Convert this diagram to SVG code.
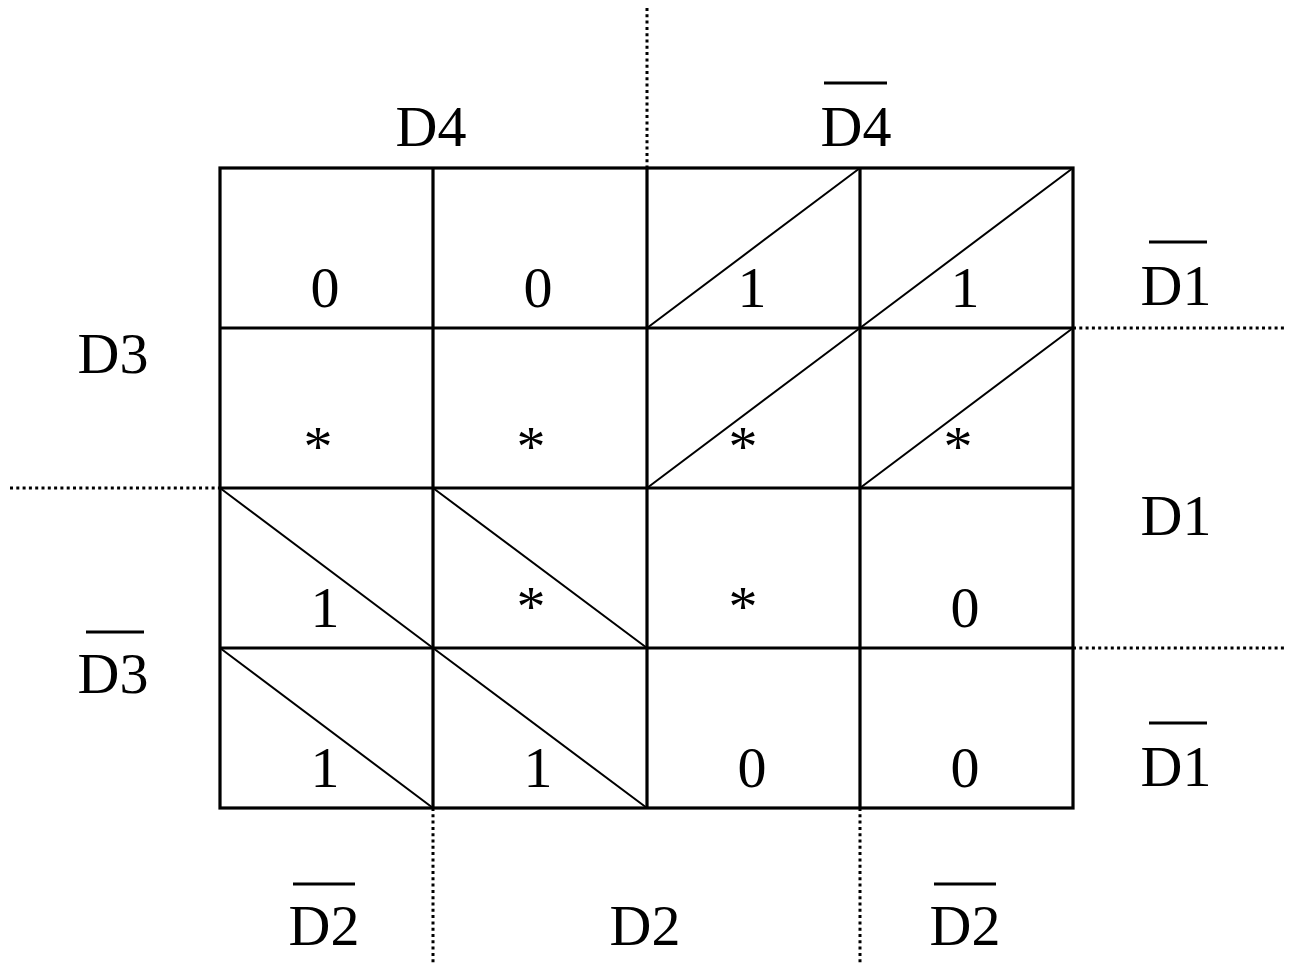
<svg xmlns="http://www.w3.org/2000/svg" width="1290" height="964" viewBox="0 0 1290 964">
<style>
text{font-family:"Liberation Serif","Times New Roman",serif;font-size:58px;fill:#000;text-anchor:middle}
.grid{stroke:#000;stroke-width:3.2;fill:none}
.diag{stroke:#000;stroke-width:2;fill:none}
.dot{stroke:#000;stroke-width:3;stroke-dasharray:3 3.3;fill:none}
.bar{stroke:#000;stroke-width:3}
</style>
<rect width="1290" height="964" fill="#fff"/>
<g id="grid">
<rect class="grid" x="220" y="168" width="853" height="640"/>
<path class="grid" d="M433 168V808M647 168V808M860 168V808M220 328H1073M220 488H1073M220 648H1073"/>
</g>
<g id="connectors">
<path class="dot" d="M647 8V168M433 808V964M860 808V964M10 488H220M1073 328H1285M1073 648H1285"/>
</g>
<g id="diagonals">
<path class="diag" d="M647 328L860 168M860 328L1073 168M647 488L860 328M860 488L1073 328M220 488L433 648M433 488L647 648M220 648L433 808M433 648L647 808"/>
</g>
<g id="cells">
<g id="r1"><text x="325" y="307">0</text><text x="538" y="307">0</text><text x="752" y="307">1</text><text x="965" y="307">1</text></g>
<g id="r2"><text x="318" y="466">*</text><text x="531" y="466">*</text><text x="743" y="466">*</text><text x="958" y="466">*</text></g>
<g id="r3"><text x="325" y="627">1</text><text x="531" y="626">*</text><text x="743" y="626">*</text><text x="965" y="627">0</text></g>
<g id="r4"><text x="325" y="787">1</text><text x="538" y="787">1</text><text x="752" y="787">0</text><text x="965" y="787">0</text></g>
</g>
<g id="labels">
<g id="D4"><text x="431" y="146">D4</text></g>
<g id="D4bar"><text x="856" y="146">D4</text><line class="bar" x1="824" y1="83" x2="887" y2="83"/></g>
<g id="D3"><text x="113" y="373">D3</text></g>
<g id="D3bar"><text x="113" y="693">D3</text><line class="bar" x1="86" y1="632" x2="144" y2="632"/></g>
<g id="D1bar1"><text x="1176" y="305">D1</text><line class="bar" x1="1149" y1="242" x2="1207" y2="242"/></g>
<g id="D1"><text x="1176" y="535">D1</text></g>
<g id="D1bar2"><text x="1176" y="786">D1</text><line class="bar" x1="1149" y1="723" x2="1207" y2="723"/></g>
<g id="D2bar1"><text x="324" y="945">D2</text><line class="bar" x1="293" y1="884" x2="355" y2="884"/></g>
<g id="D2"><text x="645" y="945">D2</text></g>
<g id="D2bar2"><text x="965" y="945">D2</text><line class="bar" x1="934" y1="884" x2="996" y2="884"/></g>
</g>
</svg>
